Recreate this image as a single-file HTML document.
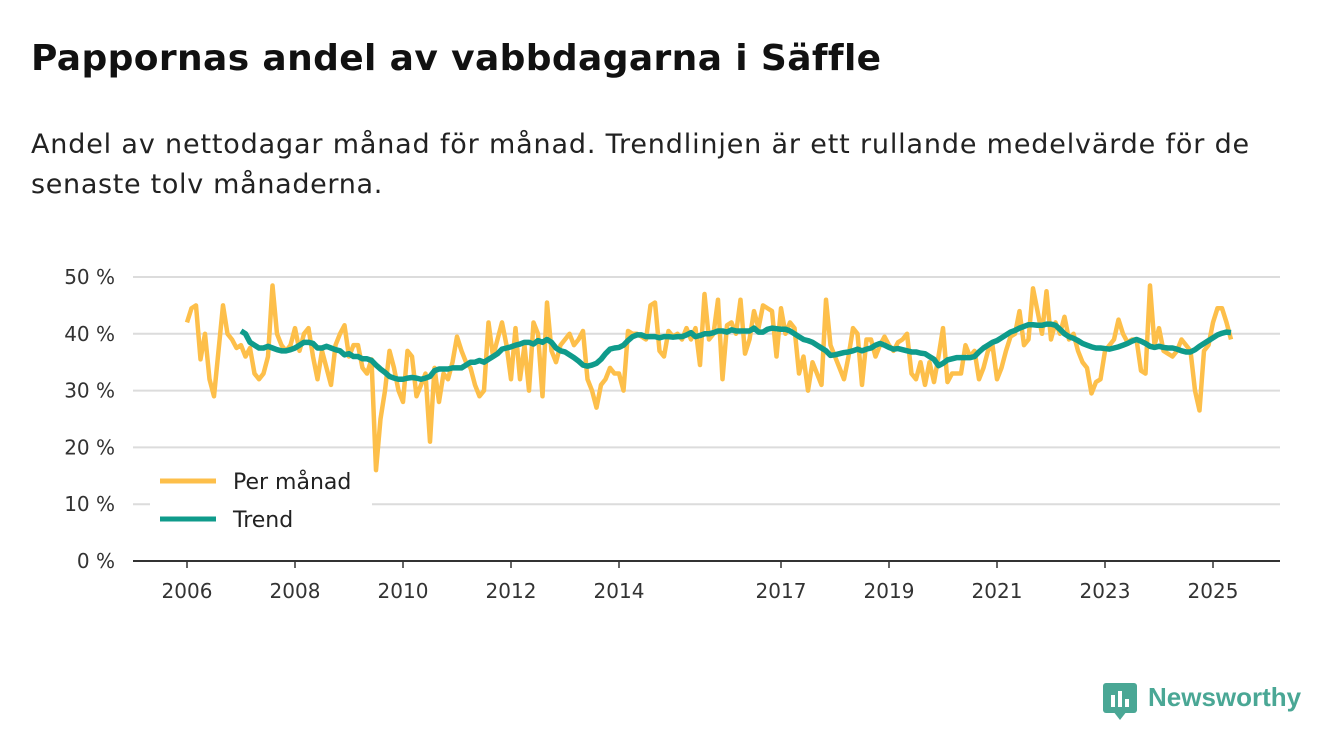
<!DOCTYPE html>
<html><head><meta charset="utf-8">
<style>
body{margin:0;background:#fff;font-family:"DejaVu Sans",sans-serif;}
#wrap{position:relative;width:1340px;height:753px;overflow:hidden;}
h1{position:absolute;left:31px;top:38px;margin:0;font-size:36px;font-weight:bold;color:#111;white-space:nowrap;}
.sub{position:absolute;left:31px;margin:0;font-size:27px;line-height:40px;color:#222;white-space:nowrap;}
svg{position:absolute;left:0;top:0;}
</style></head><body>
<div id="wrap">
<h1 id="t1">Pappornas andel av vabbdagarna i Säffle</h1>
<div class="sub" id="s1" style="top:125px">Andel av nettodagar månad för månad. Trendlinjen är ett rullande medelvärde för de</div>
<div class="sub" id="s2" style="top:165px">senaste tolv månaderna.</div>
<svg id="chart" width="1340" height="753"></svg>
<div style="position:absolute;left:1103px;top:683px;">
<div style="position:absolute;left:0;top:0;width:34px;height:30px;background:#4aa795;border-radius:3px;"></div>
<div style="position:absolute;left:10px;top:28px;width:0;height:0;border-left:7px solid transparent;border-right:7px solid transparent;border-top:9px solid #4aa795;"></div>
<div style="position:absolute;left:8px;top:12px;width:4px;height:12px;background:#fff;"></div>
<div style="position:absolute;left:15px;top:8px;width:4px;height:16px;background:#fff;"></div>
<div style="position:absolute;left:22px;top:16px;width:4px;height:8px;background:#fff;"></div>
<div style="position:absolute;left:45px;top:-1px;font-size:26px;font-weight:bold;color:#4aa795;white-space:nowrap;font-family:'Liberation Sans',sans-serif;">Newsworthy</div>
</div>
</div>
<script>
const yTicks=[0,10,20,30,40,50];
const xTickYears=[2006,2008,2010,2012,2014,2017,2019,2021,2023,2025];
const startYear=2006;
const monthly=[
42,44.5,45,35.5,40,32,29,37,45,40,39,37.5,
38,36,37.5,33,32,33,36,48.5,40,38,37,38,
41,37,40,41,36,32,37,34,31,38,40,41.5,
36,38,38,34,33,35.5,16,25,30,37,34,30,
28,37,36,29,31,33,21,34,28,33,32,35,
39.5,37,35,34,31,29,30,42,36,39,42,38,
32,41,32,38,30,42,40,29,45.5,37,35,38,
39,40,38,39,40.5,32,30,27,31,32,34,33,
33,30,40.5,40,40,39.5,39,45,45.5,37,36,40.5,
39.5,40,39,41,39,41,34.5,47,39,40,46,32,
41.5,42,40,46,36.5,39,44,41,45,44.5,44,36,
44.5,40,42,41,33,36,30,35,33,31,46,38,
36,34,32,36,41,40,31,39,39,36,38,39.5,
38,37,38.5,39,40,33,32,35,31,35,31.5,36,
41,31.5,33,33,33,38,36,37,32,34,37,38,
32,34,37,39.5,40,44,38,39,48,44,40,47.5,
39,42,40,43,39,40,37,35,34,29.5,31.5,32,
37,38,39,42.5,40,38.5,39,39,33.5,33,48.5,38,
41,37,36.5,36,37,39,38,37,30,26.5,37,38,
42,44.5,44.5,42,39];
const trendStart=12;
const trend=[
40.5,40,38.5,38,37.5,37.5,37.8,37.5,37.2,37,37,37.2,
37.5,38,38.5,38.5,38.3,37.5,37.5,37.8,37.5,37.2,37,36.3,
36.5,36,36,35.6,35.6,35.3,34.5,33.8,33.2,32.5,32.2,32,
32,32.2,32.3,32.2,32,32.2,32.5,33.5,33.8,33.8,33.8,34,
34,34,34.5,35,35,35.3,35,35.5,36,36.5,37.3,37.5,
37.7,38,38.2,38.5,38.5,38.2,38.8,38.5,39,38.5,37.5,37,
36.8,36.3,35.8,35.2,34.5,34.3,34.5,34.8,35.5,36.5,37.3,37.5,
37.6,38,38.8,39.5,39.8,39.8,39.5,39.5,39.5,39.3,39.5,39.5,
39.4,39.5,39.5,39.8,40.2,39.5,39.7,40,40,40.2,40.5,40.5,
40.3,40.7,40.5,40.5,40.5,40.5,41,40.3,40.3,40.8,41,40.9,
40.8,40.8,40.5,40,39.5,39,38.8,38.5,38,37.5,37,36.2,
36.3,36.5,36.7,36.8,37,37.3,37,37.3,37.5,38,38.3,38,
37.6,37.3,37.4,37.2,37,36.8,36.8,36.6,36.5,36,35.5,34.4,
34.8,35.4,35.6,35.8,35.8,35.8,35.8,36,36.8,37.5,38,38.5,
38.8,39.3,39.8,40.3,40.6,41,41.3,41.6,41.6,41.5,41.5,41.7,
41.7,41.5,40.8,40,39.5,39.2,38.8,38.3,38,37.7,37.5,37.5,
37.4,37.3,37.5,37.7,38,38.3,38.7,39,38.7,38.3,37.8,37.6,
37.8,37.6,37.5,37.5,37.3,37,36.8,36.8,37.2,37.8,38.3,38.8,
39.3,39.8,40.1,40.3,40.2];
const legendLabels=["Per månad","Trend"];

function fit(id,target){const e=document.getElementById(id);const w=e.getBoundingClientRect().width;const n=e.textContent.length;e.style.letterSpacing=((target-w)/n)+'px';}
fit('t1',847);fit('s1',1219);fit('s2',352);

const NS="http://www.w3.org/2000/svg";
const svg=document.getElementById('chart');
const x0=187, pxPerYear=54, y0=561, pxPerPct=5.68;
const xScale=i=>x0+i*pxPerYear/12;
const xYear=yr=>x0+(yr-startYear)*pxPerYear;
const yScale=v=>y0-v*pxPerPct;
const FF='DejaVu Sans, sans-serif';
function el(tag,attrs){const e=document.createElementNS(NS,tag);for(const k in attrs)e.setAttribute(k,attrs[k]);svg.appendChild(e);return e;}

yTicks.forEach(t=>{
  if(t>0){const g=el('line',{x1:133,x2:1280,y1:yScale(t),y2:yScale(t),stroke:'#dcdcdc','stroke-width':2});
  
  }
  const tx=el('text',{x:115,y:yScale(t)+7,'text-anchor':'end','font-size':20,fill:'#333','font-family':FF});
  tx.textContent=t+' %';
  
  
});
const ax=el('line',{x1:133,x2:1280,y1:y0,y2:y0,stroke:'#333','stroke-width':2});


xTickYears.forEach(yr=>{
  const tk=el('line',{x1:xYear(yr),x2:xYear(yr),y1:y0,y2:y0+7,stroke:'#333','stroke-width':1.5});
  
  
  const tx=el('text',{x:xYear(yr),y:598,'text-anchor':'middle','font-size':20,fill:'#333','font-family':FF});
  tx.textContent=yr;
  
  
});
const pm=el('polyline',{points:monthly.map((v,i)=>xScale(i)+','+yScale(v)).join(' '),fill:'none',stroke:'#fdbf4a','stroke-width':4.5,'stroke-linejoin':'round'});


const tr=el('polyline',{points:trend.map((v,i)=>xScale(i+trendStart)+','+yScale(v)).join(' '),fill:'none',stroke:'#0f9b8b','stroke-width':5.5,'stroke-linejoin':'round'});


const lb=el('rect',{x:150,y:462,width:222,height:78,fill:'#fff'});


const cols=['#fdbf4a','#0f9b8b'];
legendLabels.forEach((lab,i)=>{
  const yy=481+i*38;
  const ln=el('line',{x1:160,x2:216,y1:yy,y2:yy,stroke:cols[i],'stroke-width':5});
  
  
  const t=el('text',{x:233,y:yy+8,'font-size':22,fill:'#222','font-family':FF});
  t.textContent=lab;
  
  
});
</script>
</body></html>
